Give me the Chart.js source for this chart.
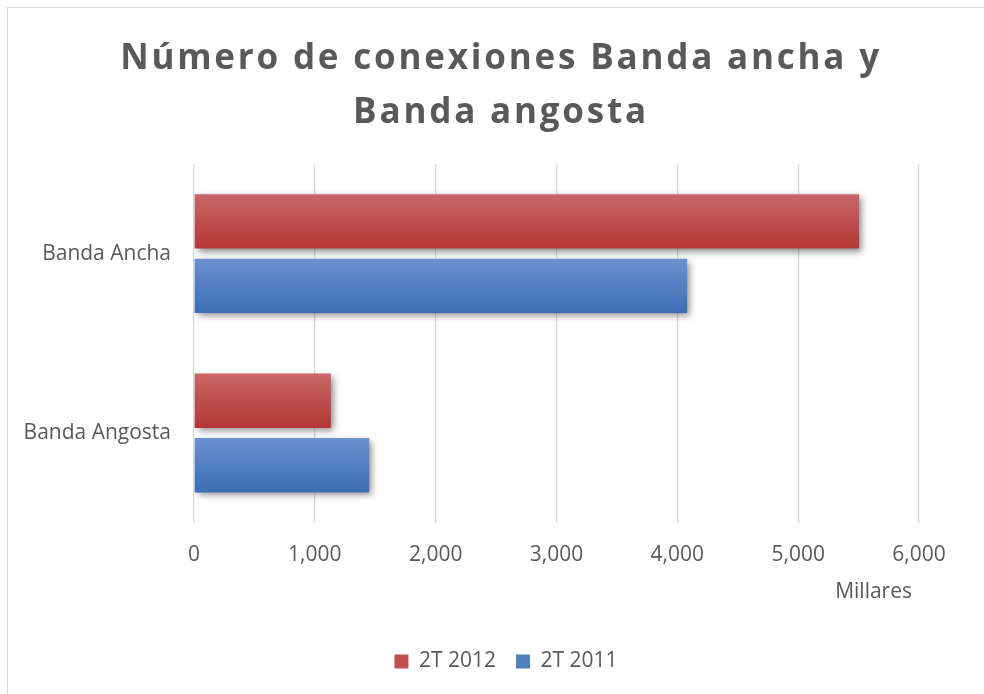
<!DOCTYPE html>
<html>
<head>
<meta charset="utf-8">
<script src="https://cdn.jsdelivr.net/npm/chart.js@4/dist/chart.umd.min.js"></script>
<style>
  html, body { margin: 0; padding: 0; background: #fff; }
  #wrap { position: relative; width: 984px; height: 694px; overflow: hidden; }
  #frame { position: absolute; left: 7px; top: 7px; width: 1200px; height: 1200px;
           border-left: 1px solid #d9d9d9; border-top: 1px solid #d9d9d9; box-sizing: border-box; }
  canvas { position: absolute; left: 0; top: 0; }
</style>
</head>
<body>
<div id="wrap">
  <div id="frame"></div>
  <canvas id="c" width="984" height="694"></canvas>
</div>
<script>
const categories = ["Banda Ancha", "Banda Angosta"];
const seriesNames = ["2T 2012", "2T 2011"];
const values2012 = [5504, 1133];
const values2011 = [4081, 1450];
const xTicks = [0, 1000, 2000, 3000, 4000, 5000, 6000];
const titleLines = ["Número de conexiones Banda ancha y", "Banda angosta"];
const axisTitle = "Millares";

const GRAD = [["#c96767", "#b43636"], ["#6b91d0", "#3d6db5"]];
const SOLID = ["#c0504d", "#4f81bd"];
const TXT = "#595959";
const FONT = "'Open Sans', 'Liberation Sans', sans-serif";

const gradPlugin = {
  id: 'gradShadow',
  afterLayout(chart) {
    const tb = chart.titleBlock;
    if (tb) {
      tb.left = 18; tb.right = 984;
      if (!tb._ls) {
        const orig = tb.draw;
        tb.draw = function (...a) {
          const c = this.ctx;
          c.save();
          c.letterSpacing = '2.8px';
          orig.apply(this, a);
          c.restore();
        };
        tb._ls = true;
      }
    }
    const lg = chart.legend;
    if (lg) { lg.left = 28; lg.right = 984; }
    const xs = chart.scales.x;
    if (xs && !xs._shifted) {
      const origT = xs.drawTitle;
      xs.drawTitle = function (...a) {
        const c = this.ctx;
        c.save();
        c.translate(-7, 0);
        origT.apply(this, a);
        c.restore();
      };
      xs._shifted = true;
    }
  },
  beforeDatasetDraw(chart, args) {
    const ctx = chart.ctx;
    const cols = GRAD[args.index];
    args.meta.data.forEach(el => {
      const top = el.y - el.height / 2, bot = el.y + el.height / 2;
      const g = ctx.createLinearGradient(0, top, 0, bot);
      g.addColorStop(0, cols[0]);
      g.addColorStop(1, cols[1]);
      el.options = Object.assign({}, el.options, { backgroundColor: g });
    });
    ctx.save();
    ctx.shadowColor = 'rgba(0,0,0,0.45)';
    ctx.shadowBlur = 7;
    ctx.shadowOffsetX = 3;
    ctx.shadowOffsetY = 3;
  },
  afterDatasetDraw(chart) { chart.ctx.restore(); }
};

new Chart(document.getElementById('c'), {
  type: 'bar',
  data: {
    labels: categories,
    datasets: [
      { label: seriesNames[0], data: values2012, backgroundColor: SOLID[0], borderWidth: 0 },
      { label: seriesNames[1], data: values2011, backgroundColor: SOLID[1], borderWidth: 0 }
    ]
  },
  options: {
    indexAxis: 'y',
    responsive: false,
    animation: false,
    categoryPercentage: 0.719,
    barPercentage: 0.844,
    layout: { padding: { left: 0, right: 65, top: 8, bottom: 12 } },
    scales: {
      x: {
        min: 0, max: 6000,
        afterBuildTicks(scale) { scale.ticks = xTicks.map(v => ({ value: v })); },
        grid: { color: '#d9d9d9', lineWidth: 1.3, drawTicks: false },
        border: { display: false },
        ticks: {
          padding: 20,
          color: TXT,
          font: { family: FONT, size: 21 },
          callback: v => v.toLocaleString('en-US')
        },
        title: {
          display: true, text: axisTitle, align: 'end',
          color: TXT, font: { family: FONT, size: 21 },
          padding: { top: -8, bottom: 26 }
        }
      },
      y: {
        grid: { display: false, drawTicks: false },
        border: { display: false },
        afterFit(scale) { scale.width = 194; },
        ticks: { padding: 23, color: TXT, font: { family: FONT, size: 21 } }
      }
    },
    plugins: {
      title: {
        display: true,
        text: titleLines,
        color: TXT,
        font: { family: FONT, size: 35, weight: 'bold', lineHeight: 1.55 },
        padding: { top: 24, bottom: 23.5 }
      },
      legend: {
        position: 'bottom',
        labels: {
          color: TXT,
          font: { family: FONT, size: 21 },
          boxWidth: 14, boxHeight: 14, padding: 20
        }
      },
      tooltip: { enabled: false }
    }
  },
  plugins: [gradPlugin]
});
</script>
</body>
</html>
